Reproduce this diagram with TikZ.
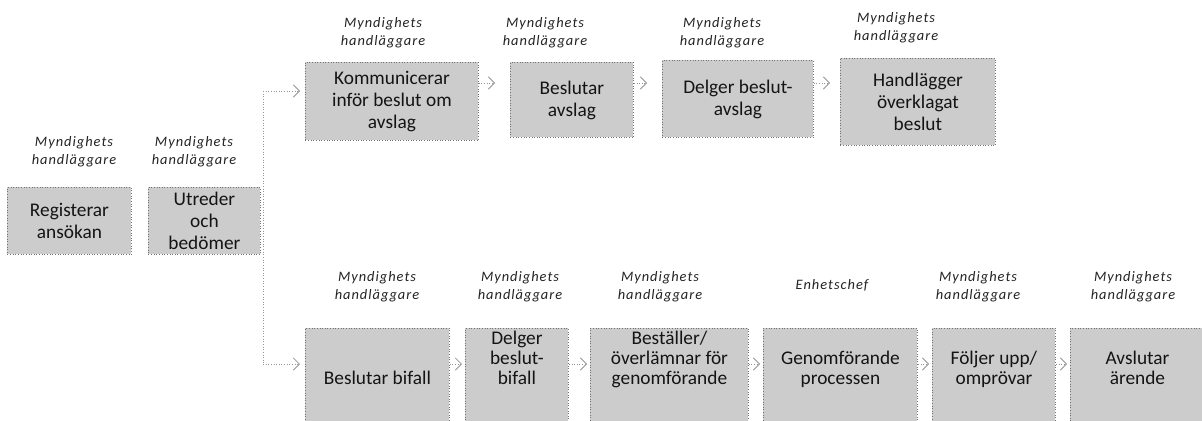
\documentclass[tikz,border=0pt]{standalone}
\usepackage{fontspec}
\setmainfont{Carlito}
\newfontfamily\lblfont[LetterSpace=7.0]{Carlito}
\usetikzlibrary{arrows.meta}
\definecolor{boxfill}{RGB}{204,204,204}
\definecolor{boxline}{RGB}{115,115,115}
\definecolor{arrowcol}{RGB}{150,150,150}
\definecolor{txt}{RGB}{20,20,20}
\definecolor{lbltxt}{RGB}{35,35,35}
\newcommand\bstack[1]{\begin{tabular}[b]{@{}c@{}}#1\end{tabular}}
\tikzset{
  box/.style={draw=boxline, fill=boxfill, line width=0.5pt, densely dotted,
    anchor=north west, align=center, inner sep=0pt, text=txt,
    font=\fontsize{11}{12.6}\selectfont},
  lowbox/.style={box, text height=10.5pt, text depth=1.4pt,
    font=\fontsize{11}{11.5}\selectfont},
  lbl/.style={align=center, inner sep=0pt, text=lbltxt,
    font=\lblfont\itshape\fontsize{8.2}{10.2}\selectfont},
  flowline/.style={draw=arrowcol, line width=0.5pt, densely dotted},
  flow/.style={flowline, -{Straight Barb[length=3.5pt,width=7pt,line width=0.5pt]}},
}
\begin{document}
\begin{tikzpicture}[x=0.02cm, y=-0.02cm]
\useasboundingbox (0,0) rectangle (1202,420);
% boxes
\node[box, minimum width=2.48cm, minimum height=1.34cm] (reg) at (7,187) {Registerar\\ansökan};
\node[box, minimum width=2.24cm, minimum height=1.34cm] (utr) at (148,187) {Utreder\\och\\bedömer};
\node[box, minimum width=3.46cm, minimum height=1.56cm] (komm) at (305,62) {Kommunicerar\\inför beslut om\\avslag};
\node[box, minimum width=2.46cm, minimum height=1.50cm] (bavs) at (510,62) {\rule{0pt}{8pt}Beslutar\\avslag};
\node[box, minimum width=3.02cm, minimum height=1.54cm] (davs) at (662,60) {\rule{0pt}{8pt}Delger beslut-\\avslag};
\node[box, minimum width=3.10cm, minimum height=1.74cm] (hand) at (840,58) {Handlägger\\överklagat\\beslut};
\node[lowbox, minimum width=2.88cm, minimum height=1.92cm] (bbif) at (305,328) {\bstack{Beslutar bifall}};
\node[lowbox, minimum width=2.06cm, minimum height=1.92cm] (dbif) at (465,328) {\bstack{Delger\\beslut-\\bifall}};
\node[lowbox, minimum width=3.16cm, minimum height=1.92cm] (best) at (590,328) {\bstack{Beställer/\\överlämnar för\\genomförande}};
\node[lowbox, minimum width=3.08cm, minimum height=1.92cm] (genf) at (763,328) {\bstack{Genomförande\\processen}};
\node[lowbox, minimum width=2.46cm, minimum height=1.92cm] (folj) at (932,328) {\bstack{Följer upp/\\omprövar}};
\node[lowbox, minimum width=2.68cm, minimum height=1.92cm] (avsl) at (1070,328) {\bstack{Avslutar\\ärende}};
% role labels
\node[lbl] (lreg) at (74,152) {Myndighets\\handläggare};
\node[lbl] (lutr) at (194,152) {Myndighets\\handläggare};
\node[lbl] (lkomm) at (383,33) {Myndighets\\handläggare};
\node[lbl] (lbavs) at (545,33) {Myndighets\\handläggare};
\node[lbl] (ldavs) at (722,33) {Myndighets\\handläggare};
\node[lbl] (lhand) at (896,28) {Myndighets\\handläggare};
\node[lbl] (lbbif) at (377,287) {Myndighets\\handläggare};
\node[lbl] (ldbif) at (520,287) {Myndighets\\handläggare};
\node[lbl] (lbest) at (660,287) {Myndighets\\handläggare};
\node[lbl] (lgenf) at (832,285) {Enhetschef};
\node[lbl] (lfolj) at (978,287) {Myndighets\\handläggare};
\node[lbl] (lavsl) at (1133,287) {Myndighets\\handläggare};
% connectors
\coordinate (ytop) at (0,83);
\coordinate (ybot) at (0,364);
\coordinate (jt) at (263,91);
\coordinate (jb) at (263,364);
\draw[flowline] (jt) -- (jb);
\draw[flow, shorten >=0.1cm] (jt) -- (komm.west |- jt);
\draw[flow, shorten >=0.1cm] (jb) -- (bbif.west |- jb);
\draw[flow, shorten >=0.3cm] (komm.east |- ytop) -- (bavs.west |- ytop);
\draw[flow, shorten >=0.3cm] (bavs.east |- ytop) -- (davs.west |- ytop);
\draw[flow, shorten >=0.2cm] (davs.east |- ytop) -- (hand.west |- ytop);
\draw[flow, shorten >=0.06cm] (bbif.east |- ybot) -- (dbif.west |- ybot);
\draw[flow, shorten >=0.06cm] (dbif.east |- ybot) -- (best.west |- ybot);
\draw[flow, shorten >=0.06cm] (best.east |- ybot) -- (genf.west |- ybot);
\draw[flow, shorten >=0.06cm] (genf.east |- ybot) -- (folj.west |- ybot);
\draw[flow, shorten >=0.06cm] (folj.east |- ybot) -- (avsl.west |- ybot);
\end{tikzpicture}
\end{document}
